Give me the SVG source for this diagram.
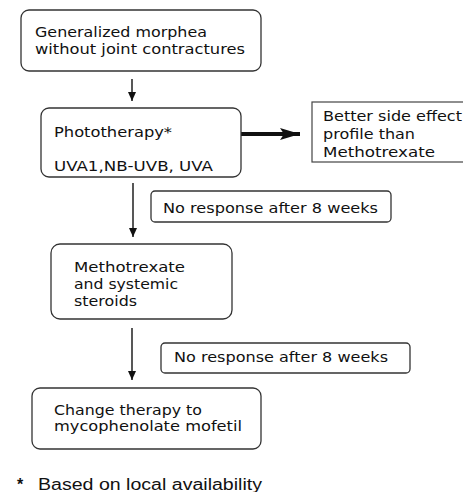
<svg xmlns="http://www.w3.org/2000/svg" width="463" height="492" viewBox="0 0 463 492">
<defs>
<style>
.box{fill:#fff;stroke:#333;stroke-width:1.3}
.t{font-family:"DejaVu Sans",Verdana,sans-serif;font-size:13.5px;fill:#111}
.f{font-family:"Liberation Sans",Arial,sans-serif;font-size:16px;fill:#111}
.c{stroke:#111;stroke-width:1.4;fill:none}
</style>
<marker id="ah" viewBox="0 0 10 10" refX="10" refY="5" markerWidth="9" markerHeight="8" markerUnits="userSpaceOnUse" orient="auto" preserveAspectRatio="none"><path d="M0,0 L10,5 L0,10 z" fill="#111"/></marker>
<marker id="ahb" viewBox="0 0 10 10" refX="10" refY="5" markerWidth="20" markerHeight="12" markerUnits="userSpaceOnUse" orient="auto" preserveAspectRatio="none"><path d="M0,0 L10,5 L0,10 L2,5 z" fill="#111"/></marker>
</defs>
<rect width="463" height="492" fill="#fff"/>
<g id="connectors">
<line class="c" x1="132" y1="79" x2="132" y2="101" marker-end="url(#ah)"/>
<line class="c" x1="133" y1="183" x2="133" y2="237" marker-end="url(#ah)"/>
<line class="c" x1="132" y1="328" x2="132" y2="380" marker-end="url(#ah)"/>
<line x1="230" y1="134" x2="300" y2="134" stroke="#111" stroke-width="4" marker-end="url(#ahb)"/>
</g>
<g id="n1">
<rect class="box" x="21" y="10" width="240" height="61" rx="8"/>
<text class="t" x="35" y="37" textLength="172" lengthAdjust="spacingAndGlyphs">Generalized morphea</text>
<text class="t" x="35" y="54" textLength="210" lengthAdjust="spacingAndGlyphs">without joint contractures</text>
</g>
<g id="n2">
<rect class="box" x="41" y="108" width="200" height="69" rx="8"/>
<text class="t" x="54" y="137" textLength="118" lengthAdjust="spacingAndGlyphs">Phototherapy*</text>
<text class="t" x="54" y="171" textLength="159" lengthAdjust="spacingAndGlyphs">UVA1,NB-UVB, UVA</text>
</g>
<g id="n3">
<rect x="312" y="102" width="160" height="60" fill="#fff" stroke="#444" stroke-width="1.2"/>
<text class="t" x="323" y="121" textLength="139" lengthAdjust="spacingAndGlyphs">Better side effect</text>
<text class="t" x="323" y="139" textLength="92" lengthAdjust="spacingAndGlyphs">profile than</text>
<text class="t" x="323" y="157" textLength="112" lengthAdjust="spacingAndGlyphs">Methotrexate</text>
</g>
<g id="l1">
<rect class="box" x="151" y="191" width="240" height="31" rx="4"/>
<text class="t" x="163" y="213" textLength="215" lengthAdjust="spacingAndGlyphs">No response after 8 weeks</text>
</g>
<g id="n4">
<rect class="box" x="51" y="244" width="181" height="75" rx="9"/>
<text class="t" x="74" y="272" textLength="111" lengthAdjust="spacingAndGlyphs">Methotrexate</text>
<text class="t" x="74" y="289" textLength="104" lengthAdjust="spacingAndGlyphs">and systemic</text>
<text class="t" x="74" y="306" textLength="63" lengthAdjust="spacingAndGlyphs">steroids</text>
</g>
<g id="l2">
<rect class="box" x="161" y="343" width="249" height="30" rx="4"/>
<text class="t" x="174" y="362" textLength="214" lengthAdjust="spacingAndGlyphs">No response after 8 weeks</text>
</g>
<g id="n5">
<rect class="box" x="32" y="388" width="229" height="61" rx="8"/>
<text class="t" x="54" y="415" textLength="148" lengthAdjust="spacingAndGlyphs">Change therapy to</text>
<text class="t" x="54" y="431" textLength="188" lengthAdjust="spacingAndGlyphs">mycophenolate mofetil</text>
</g>
<g id="footnote">
<text class="f" x="17" y="490" font-weight="bold" font-size="15">*</text>
<text class="f" x="38" y="490" textLength="224" lengthAdjust="spacingAndGlyphs">Based on local availability</text>
</g>
</svg>
